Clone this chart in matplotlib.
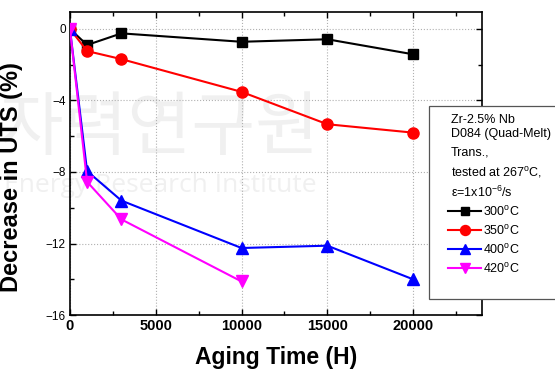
import matplotlib
matplotlib.use('Agg')
import matplotlib.pyplot as plt
from matplotlib.patches import Rectangle
from matplotlib.ticker import MultipleLocator

####### data
hours = [0, 1000, 3000, 10000, 15000, 20000]
hours_420 = [0, 1000, 3000, 10000]
uts_300 = [0, -0.9, -0.25, -0.72, -0.58, -1.42]
uts_350 = [0, -1.24, -1.69, -3.52, -5.33, -5.8]
uts_400 = [0, -7.95, -9.6, -12.25, -12.12, -14.0]
uts_420 = [0, -8.55, -10.65, -14.12]
labels = ['300$^{\\mathregular{o}}$C', '350$^{\\mathregular{o}}$C',
          '400$^{\\mathregular{o}}$C', '420$^{\\mathregular{o}}$C']
header = ['Zr-2.5% Nb', 'D084 (Quad-Melt)', 'Trans.,',
          'tested at 267$^{\\mathregular{o}}$C,',
          '\u03b5=1x10$^{\\mathregular{-6}}$/s']

plt.rcParams['font.family'] = ['Liberation Sans', 'DejaVu Sans']
plt.rcParams['mathtext.fontset'] = 'custom'
plt.rcParams['mathtext.rm'] = 'Liberation Sans'

fig = plt.figure(figsize=(5.55, 3.72), dpi=100)
ax = fig.add_axes([0.126, 0.153, 0.742, 0.815])
ftr = fig.transFigure

####### faint watermark behind the data
ax.text(0.575, 0.653, '한국원자력연구원', transform=ftr, fontsize=50,
        family=['Noto Sans CJK KR'], color='#f0f0f0', ha='right', va='center',
        zorder=0.5, clip_on=False)
ax.text(0.008, 0.5, 'Energy Research Institute', transform=ftr,
        fontsize=19, family=['Open Sans'], color='#f0f0f0', ha='left',
        va='center', zorder=0.5, clip_on=False)

ax.set_facecolor('none')
lw = 1.5
ax.plot(hours, uts_300, '-s', color='black', lw=lw, ms=7, label=labels[0], zorder=3)
ax.plot(hours, uts_350, '-o', color='red', lw=lw, ms=8, label=labels[1], zorder=3)
ax.plot(hours, uts_400, '-^', color='blue', lw=lw, ms=8, label=labels[2], zorder=3)
ax.plot(hours_420, uts_420, '-v', color='magenta', lw=lw, ms=8, label=labels[3], zorder=3)

ax.set_xlim(0, 24000)
ax.set_ylim(-16, 0.95)
ax.xaxis.set_minor_locator(MultipleLocator(2500))
ax.yaxis.set_major_locator(MultipleLocator(4))
ax.yaxis.set_minor_locator(MultipleLocator(2))
ax.set_xticks([0, 5000, 10000, 15000, 20000])
ax.tick_params(which='both', direction='in', top=True, right=True, width=1)
ax.tick_params(which='major', length=4)
ax.tick_params(which='minor', length=3)
ax.tick_params(axis='x', labelsize=10.5, pad=3)
ax.tick_params(axis='y', labelsize=8.5, pad=3)
for t in ax.get_xticklabels():
    t.set_fontweight('bold')
ax.grid(True, which='major', linestyle=':', color='#b0b0b0', lw=0.8)
for s in ax.spines.values():
    s.set_linewidth(1.2)

ax.set_xlabel('Aging Time (H)', fontsize=16.5, fontweight='bold', labelpad=9)
ax.set_ylabel('Decrease in UTS (%)', fontsize=17, fontweight='bold')
ax.yaxis.set_label_coords(-0.114, 0.455)

####### legend box, sticks out past the right edge of the axes
box = Rectangle((0.773, 0.197), 0.3, 0.518, transform=ftr, clip_on=False,
                facecolor='white', edgecolor='#555555', lw=0.9, zorder=5)
ax.add_patch(box)
ys = [0.678, 0.640, 0.589, 0.535, 0.484]
for y, s in zip(ys, header):
    ax.text(0.812, y, s, transform=ftr, fontsize=9, va='center', ha='left',
            zorder=6, clip_on=False)

leg = ax.legend(loc='upper left', bbox_to_anchor=(0.808, 0.45),
                bbox_transform=ftr, frameon=False, fontsize=9,
                handlelength=2.6, handletextpad=0.15, labelspacing=0.4,
                borderpad=0, borderaxespad=0, markerscale=0.9)
leg.set_zorder(7)

fig.savefig('out.png', dpi=100)
